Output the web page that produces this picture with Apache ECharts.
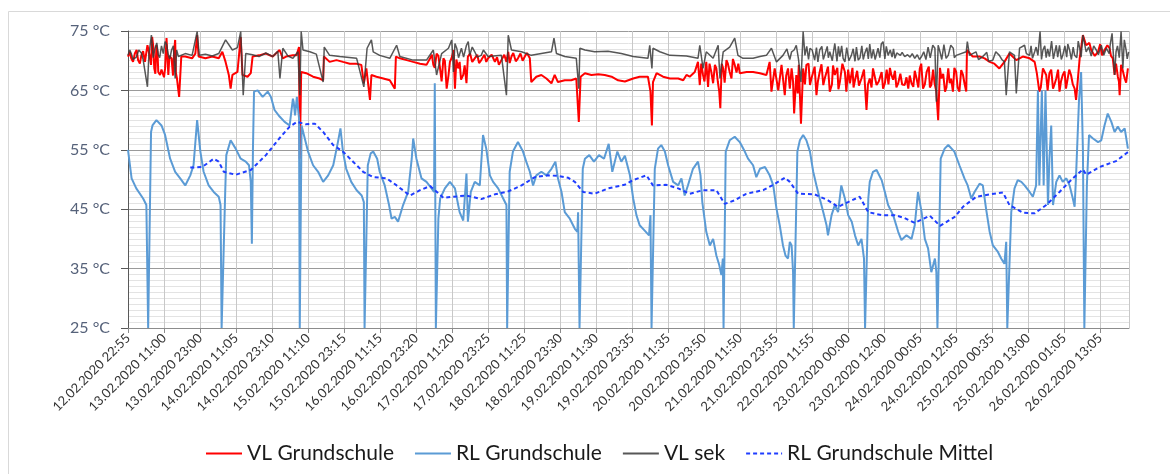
<!DOCTYPE html>
<html>
<head>
<meta charset="utf-8">
<title>VL / RL Grundschule</title>
<script src="https://cdn.jsdelivr.net/npm/echarts@6/dist/echarts.min.js"></script>
<style>
  html, body { margin: 0; padding: 0; background: #fff; }
  #chart { width: 1170px; height: 474px; }
</style>
</head>
<body>
<div id="chart"></div>
<script>
// x = position in tick slots (one slot per labelled tick), y = °C
const tickLabels = [
  '12.02.2020 22:55', '13.02.2020 11:00', '13.02.2020 23:00', '14.02.2020 11:05',
  '14.02.2020 23:10', '15.02.2020 11:10', '15.02.2020 23:15', '16.02.2020 11:15',
  '16.02.2020 23:20', '17.02.2020 11:20', '17.02.2020 23:25', '18.02.2020 11:25',
  '18.02.2020 23:30', '19.02.2020 11:30', '19.02.2020 23:35', '20.02.2020 11:35',
  '20.02.2020 23:50', '21.02.2020 11:50', '21.02.2020 23:55', '22.02.2020 11:55',
  '23.02.2020 00:00', '23.02.2020 12:00', '24.02.2020 00:05', '24.02.2020 12:05',
  '25.02.2020 00:35', '25.02.2020 13:00', '26.02.2020 01:05', '26.02.2020 13:05'
]

const vlGrundschule = [
  [0, 70.7], [0.09, 70.4], [0.19, 71.2], [0.28, 70.1], [0.37, 70.9], [0.47, 69.8], [0.54, 72.6], [0.61, 70.4],
  [0.67, 74], [0.73, 68.7], [0.79, 72.6], [0.84, 68.1], [0.89, 67.6], [0.98, 67.6], [1.03, 68.7], [1.07, 73.8],
  [1.12, 67.6], [1.21, 70.4], [1.31, 73.5], [1.36, 67], [1.42, 63.9], [1.48, 70.7], [1.59, 70.7], [1.78, 70.4],
  [1.87, 71.2], [1.92, 74.3], [1.96, 70.7], [2.15, 70.4], [2.34, 70.7], [2.52, 70.4], [2.62, 71.5], [2.71, 69.8],
  [2.8, 67.6], [2.85, 65.3], [2.9, 67.6], [3.04, 68.1], [3.13, 74], [3.18, 67.6], [3.32, 67.3], [3.41, 67.9],
  [3.46, 70.7], [3.64, 70.9], [3.83, 71.2], [4.02, 70.7], [4.21, 71.8], [4.3, 70.4], [4.39, 70.7], [4.58, 70.9],
  [4.68, 70.9], [4.75, 72.3], [4.77, 53.5], [4.81, 68.1], [4.95, 67.9], [5.14, 67.3], [5.32, 67], [5.42, 66.7],
  [5.44, 70.7], [5.6, 69.8], [5.79, 70.1], [5.97, 69.8], [6.16, 69.5], [6.35, 69.5], [6.48, 69.3], [6.55, 66.2],
  [6.62, 68.7], [6.72, 63.4], [6.76, 67.6], [6.9, 67.3], [7.09, 67], [7.27, 66.7], [7.41, 65.3], [7.44, 70.7],
  [7.55, 70.4], [7.74, 70.1], [7.92, 69.8], [8.11, 69.5], [8.29, 69.3], [8.39, 70.4], [8.48, 69.3], [8.57, 71.2],
  [8.66, 69], [8.76, 70.4], [8.85, 65.3], [8.94, 69.8], [9.04, 71.8], [9.08, 65.3], [9.17, 68.7], [9.21, 69.8],
  [9.31, 67.6], [9.4, 66.2], [9.44, 70.7], [9.63, 70.4], [9.81, 70.1], [10, 70.4], [10.19, 69.8], [10.37, 70.1],
  [10.51, 69.8], [10.56, 71.5], [10.65, 70.7], [10.83, 70.4], [11.02, 70.7], [11.16, 70.4], [11.2, 66.4], [11.34, 67.3],
  [11.48, 67.6], [11.62, 67], [11.76, 66.2], [11.85, 67.6], [11.94, 66.4], [12.13, 66.7], [12.31, 66.7], [12.45, 67],
  [12.52, 59.7], [12.57, 67.3], [12.69, 67.9], [12.87, 67.6], [13.06, 67.7], [13.24, 67.6], [13.43, 67.3], [13.61, 66.7],
  [13.8, 66.5], [14.03, 67], [14.21, 67.3], [14.44, 67.3], [14.51, 64.8], [14.55, 59.1], [14.58, 66.4], [14.68, 67.9],
  [14.86, 67.3], [15.05, 67], [15.28, 67], [15.42, 66.7], [15.51, 67.6], [15.6, 67.3], [15.74, 68.1], [15.83, 69.8],
  [15.88, 65.9], [15.97, 67.6], [16.06, 69.8], [16.11, 65.6], [16.2, 68.1], [16.34, 68.7], [16.42, 64.8], [16.45, 62],
  [16.53, 68.7], [16.62, 70.1], [16.71, 68.1], [16.85, 69.3], [16.99, 67.9], [17.18, 68.1], [17.36, 68.1], [17.55, 67.9],
  [17.73, 67.6], [17.82, 69.8], [17.87, 64.8], [17.96, 68.7], [18.06, 65], [18.15, 69.3], [18.24, 64.2], [18.33, 68.7],
  [18.38, 65.3], [18.43, 68.7], [18.5, 61.1], [18.56, 67.6], [18.63, 69.3], [18.69, 59.4], [18.75, 68.7], [18.84, 69.3],
  [18.94, 65.9], [19.03, 68.1], [19.12, 64.2], [19.21, 68.1], [19.31, 65.9], [19.4, 68.1], [19.49, 64.8], [19.63, 67.6],
  [19.77, 66.4], [19.91, 68.1], [20.05, 66.2], [20.19, 66.7], [20.37, 67], [20.51, 61.7], [20.6, 67], [20.69, 68.7],
  [20.79, 65.9], [20.93, 68.1], [21.02, 66.2], [21.2, 67.6], [21.39, 66.2], [21.57, 65.9], [21.76, 66.2], [21.9, 67],
  [21.99, 68.7], [22.08, 65.3], [22.18, 68.1], [22.31, 65.9], [22.45, 64.8], [22.5, 60], [22.59, 67], [22.69, 64.8],
  [22.78, 68.7], [22.86, 67], [22.91, 64.8], [23, 68.1], [23.09, 64.8], [23.19, 67.6], [23.28, 64.8], [23.3, 71.8],
  [23.46, 70.7], [23.65, 70.7], [23.79, 70.4], [23.93, 69.8], [24.06, 69.5], [24.2, 68.7], [24.34, 69.8], [24.48, 71.2],
  [24.67, 70.1], [24.85, 70.7], [25.04, 70.4], [25.18, 69.8], [25.24, 67.9], [25.31, 64.8], [25.41, 68.7], [25.5, 67.6],
  [25.59, 67.9], [25.69, 65.3], [25.78, 67], [25.87, 64.8], [25.96, 67.6], [26.1, 65], [26.19, 67.6], [26.29, 65.3],
  [26.33, 63.4], [26.43, 70.4], [26.52, 74.3], [26.61, 72.6], [26.75, 71.8], [26.94, 71.5], [27.12, 71.8], [27.26, 72.1],
  [27.35, 70.4], [27.4, 67.6], [27.49, 67.3], [27.54, 64.2], [27.58, 69.3], [27.68, 67], [27.77, 68.7],
  // denser readings in the noisy stretches
  [0.05, 71.5], [0.14, 69.8], [0.24, 71.8], [0.33, 69.5], [0.42, 71.6], [0.5, 69.5], [0.57, 71.8], [0.64, 69.3],
  [0.7, 72.5], [0.76, 67.8], [0.82, 71.5], [0.93, 68.5], [1.0, 67.2], [1.15, 70.8], [1.25, 67.5], [1.28, 71.5], [1.33, 68],
  [8.44, 71], [8.52, 68.8], [8.62, 70.8], [8.71, 66.5], [8.8, 70], [8.9, 67.5], [8.99, 70.5], [9.12, 70.2], [9.25, 66.8],
  [9.35, 69.2], [9.5, 71.2], [9.56, 69.8], [9.7, 71], [9.75, 69.6], [9.9, 71], [9.95, 69.8], [10.1, 71], [10.25, 70.6],
  [10.3, 69.3], [10.45, 71], [10.6, 69.6], [10.7, 71.3], [10.77, 69.9], [10.9, 71.2], [10.96, 70], [11.08, 71.3],
  [15.92, 69.5], [16.01, 66.5], [16.15, 69.5], [16.25, 66.2], [16.3, 69.3], [16.38, 66.5], [16.49, 69.5], [16.57, 66.3],
  [16.66, 69.5], [16.76, 67], [16.8, 70.3], [16.9, 68], [16.95, 69.5],
  [18.28, 67.5], [18.47, 66.5], [18.6, 64.5], [18.8, 66], [18.9, 69.5], [18.98, 67], [19.07, 69], [19.16, 66.5],
  [19.26, 69.4], [19.35, 67], [19.44, 69], [19.55, 66], [19.58, 69.2], [19.7, 68.8], [19.73, 65.2], [19.84, 69.5],
  [19.95, 64.8], [20, 68.5], [20.12, 68.8], [20.15, 65.5], [20.25, 68.3], [20.3, 65.8], [20.44, 68.5], [20.55, 66],
  [20.65, 65.5], [20.74, 69], [20.85, 66.5], [20.97, 65.3], [21.07, 68.5], [21.12, 66], [21.16, 68.8], [21.25, 66.8],
  [21.3, 68.3], [21.34, 65.5], [21.45, 67.8], [21.5, 66], [21.62, 67.2], [21.67, 65.3], [21.71, 67.5], [21.81, 65.6],
  [21.85, 68.3], [21.95, 65.5], [22.03, 69.5], [22.13, 66], [22.24, 69], [22.27, 65.5], [22.36, 68.5], [22.4, 66.2],
  [22.55, 68.8], [22.64, 67.8], [22.73, 65.5], [22.82, 66.2], [22.95, 68.8], [23.04, 65.5], [23.14, 68.4], [23.23, 66.2],
  [25.27, 68], [25.35, 65.5], [25.45, 68.9], [25.54, 65], [25.64, 68.5], [25.73, 66], [25.83, 68.5], [25.91, 66.5],
  [26.01, 68.2], [26.05, 65.3], [26.14, 68.5], [26.24, 66],
  [26.7, 73], [26.85, 70.8], [27.0, 72.8], [27.05, 70.9], [27.2, 72.6], [27.3, 70.8],
  [27.44, 69.5], [27.52, 66.5], [27.62, 68.5], [27.72, 66.3]
]

const rlGrundschule = [
  [0, 55], [0.1, 50.2], [0.23, 48.5], [0.42, 46.8], [0.51, 45.7], [0.56, 25], [0.6, 25], [0.64, 58],
  [0.68, 59.1], [0.79, 60], [0.93, 59.1], [1.03, 57.5], [1.17, 53.5], [1.31, 51.3], [1.45, 50.2], [1.59, 49],
  [1.73, 50.7], [1.82, 52.4], [1.92, 60], [2.01, 54.7], [2.1, 51.3], [2.24, 49], [2.38, 47.9], [2.52, 47.1],
  [2.57, 45.7], [2.6, 25], [2.64, 25], [2.7, 48], [2.73, 54.1], [2.85, 56.6], [2.99, 55.2], [3.13, 53.5],
  [3.27, 53], [3.36, 52.4], [3.41, 49.6], [3.44, 39.2], [3.47, 55], [3.5, 64.8], [3.6, 65], [3.74, 63.9],
  [3.88, 64.8], [3.97, 63.9], [4.07, 61.7], [4.21, 60.6], [4.35, 59.7], [4.49, 59.1], [4.58, 63.6], [4.6, 63.1],
  [4.64, 60.8], [4.69, 63.9], [4.75, 60.3], [4.77, 25], [4.79, 25], [4.82, 59.1], [5, 54.7], [5.14, 52.4],
  [5.28, 51.3], [5.42, 49.6], [5.56, 50.7], [5.7, 52.4], [5.83, 56.3], [5.9, 58.6], [5.97, 54.7], [6.06, 51.8],
  [6.2, 49.6], [6.35, 48.2], [6.49, 47.3], [6.55, 46.2], [6.57, 25], [6.6, 25], [6.66, 52.4], [6.74, 54.4],
  [6.81, 54.7], [6.92, 53.5], [6.99, 51.3], [7.13, 49], [7.25, 45.7], [7.32, 43.4], [7.41, 43.7], [7.5, 42.9],
  [7.64, 45.7], [7.78, 47.9], [7.88, 53.5], [7.92, 56.9], [8.01, 53.5], [8.15, 50.2], [8.29, 49.6], [8.43, 48.5],
  [8.5, 47.9], [8.52, 66.2], [8.55, 25], [8.57, 25], [8.62, 43.4], [8.67, 46.8], [8.8, 48.5], [8.94, 49.6],
  [9.08, 48.5], [9.17, 45.7], [9.21, 44.5], [9.31, 43.1], [9.4, 51], [9.44, 42.9], [9.52, 47.9], [9.63, 49.6],
  [9.77, 49], [9.86, 57.5], [9.95, 55.2], [10.05, 50.7], [10.14, 49.6], [10.28, 48.5], [10.42, 46.8], [10.51, 45.7],
  [10.53, 25], [10.56, 25], [10.6, 51.3], [10.69, 54.7], [10.83, 56.3], [10.97, 54.7], [11.06, 53], [11.16, 51.3],
  [11.25, 49], [11.34, 50.7], [11.48, 51.3], [11.62, 50.7], [11.76, 51.8], [11.87, 53], [11.94, 50.2], [12.04, 47.9],
  [12.13, 44.5], [12.27, 43.4], [12.41, 41.7], [12.48, 41.2], [12.5, 44.5], [12.54, 25], [12.57, 25], [12.63, 51.8],
  [12.69, 53.5], [12.81, 54.1], [12.94, 53], [13.08, 54.1], [13.22, 53.5], [13.35, 56], [13.45, 51.3], [13.59, 54.7],
  [13.7, 53], [13.8, 54], [13.94, 50.7], [14.03, 46.8], [14.12, 44], [14.21, 42.3], [14.35, 41.4], [14.47, 40.6],
  [14.51, 44], [14.54, 25], [14.57, 25], [14.63, 51.8], [14.72, 55.2], [14.81, 55.8], [14.91, 54.7], [15, 52.4],
  [15.14, 49.6], [15.28, 49], [15.37, 50.2], [15.46, 47.3], [15.55, 49], [15.69, 51.8], [15.83, 53], [15.9, 50.7],
  [15.95, 46.2], [16.06, 41.2], [16.16, 38.9], [16.25, 40], [16.34, 37.2], [16.42, 35.6], [16.48, 33.9], [16.52, 36.7],
  [16.54, 25], [16.57, 25], [16.6, 54.7], [16.71, 56.6], [16.85, 57.2], [16.99, 56.3], [17.13, 54.7], [17.22, 53.5],
  [17.36, 52.4], [17.45, 50.4], [17.55, 51.8], [17.69, 52.1], [17.82, 50.7], [17.92, 49], [18.01, 45.1], [18.1, 42.3],
  [18.19, 38.9], [18.26, 37.2], [18.33, 36.7], [18.38, 39.5], [18.43, 38.9], [18.47, 34.4], [18.49, 25], [18.53, 25],
  [18.59, 54.7], [18.66, 56.6], [18.75, 57.5], [18.84, 56.6], [18.94, 54.7], [19.03, 51.3], [19.12, 49], [19.21, 46.8],
  [19.31, 44.5], [19.4, 42.3], [19.44, 40.6], [19.54, 44], [19.63, 45.7], [19.72, 44.5], [19.81, 49], [19.91, 46.8],
  [20, 44], [20.1, 42.9], [20.19, 40.6], [20.28, 38.9], [20.37, 40], [20.44, 36.7], [20.47, 25], [20.5, 25],
  [20.56, 46.8], [20.6, 49.6], [20.69, 51.3], [20.79, 51.6], [20.93, 49.9], [21.02, 47.9], [21.11, 45.7], [21.25, 44],
  [21.39, 41.2], [21.48, 39.8], [21.62, 40.6], [21.76, 40], [21.85, 42.3], [21.94, 47.9], [22.04, 44.5], [22.13, 40],
  [22.22, 38.4], [22.31, 34.4], [22.41, 36.7], [22.45, 34.4], [22.48, 25], [22.52, 25], [22.57, 53.5], [22.68, 55.2],
  [22.78, 55.8], [22.95, 54.7], [23.09, 52.4], [23.23, 50.2], [23.32, 49], [23.42, 46.8], [23.51, 47.9], [23.65, 49.3],
  [23.74, 49], [23.83, 45.1], [23.93, 41.2], [24.02, 38.9], [24.16, 37.8], [24.25, 36.7], [24.34, 35.8], [24.39, 39.5],
  [24.42, 25], [24.47, 25], [24.53, 44.5], [24.62, 48.5], [24.71, 49.9], [24.81, 49.6], [24.9, 49], [25.04, 47.9],
  [25.13, 47.1], [25.22, 49], [25.27, 65], [25.31, 49], [25.38, 65], [25.43, 49], [25.48, 65], [25.55, 45.7],
  [25.59, 53.5], [25.64, 59.1], [25.69, 45.7], [25.78, 49.6], [25.87, 50.7], [25.96, 49.6], [26.06, 50.2], [26.15, 49],
  [26.24, 46.8], [26.29, 45.4], [26.33, 50.7], [26.41, 63.1], [26.47, 68.1], [26.52, 55], [26.56, 25], [26.59, 25],
  [26.63, 49], [26.69, 57.5], [26.8, 56.9], [26.94, 56.3], [27.03, 56.6], [27.12, 59.1], [27.21, 61.1], [27.31, 59.7],
  [27.4, 58], [27.49, 58.9], [27.58, 58], [27.68, 58.6], [27.77, 55.2]
]

const vlSek = [
  [0, 70.9], [0.09, 71.2], [0.23, 70.6], [0.37, 71.3], [0.47, 70.5], [0.54, 65.6], [0.58, 71], [0.65, 74.3],
  [0.75, 72.1], [0.84, 71], [0.93, 72.5], [1.03, 73.2], [1.12, 71], [1.21, 71.8], [1.31, 67], [1.4, 70.7],
  [1.59, 71.2], [1.78, 70.9], [1.92, 74.9], [1.98, 70.9], [2.15, 71.1], [2.34, 70.8], [2.52, 71.2], [2.71, 73.5],
  [2.9, 71.8], [3.04, 72.2], [3.13, 74.9], [3.2, 64.2], [3.27, 71.2], [3.46, 71], [3.64, 70.7], [3.83, 71.3],
  [4.02, 70.7], [4.16, 71.6], [4.22, 67], [4.3, 72.1], [4.44, 70.8], [4.58, 70.4], [4.72, 71.5], [4.77, 64.2],
  [4.81, 74.9], [4.86, 71.8], [5.05, 71.5], [5.23, 71.1], [5.42, 66.4], [5.45, 72.3], [5.6, 70.9], [5.88, 70.7],
  [6.35, 70.4], [6.55, 65.6], [6.64, 72.1], [6.76, 73.5], [6.81, 71.5], [6.99, 70.9], [7.27, 70.4], [7.46, 72.6],
  [7.55, 70.7], [7.92, 70.1], [8.29, 70.1], [8.48, 71.8], [8.57, 67.6], [8.71, 71.2], [8.9, 72.1], [8.99, 73.5],
  [9.04, 68.1], [9.13, 72.1], [9.26, 72.1], [9.4, 72.6], [9.49, 70.9], [9.63, 71.5], [9.81, 70.9], [10, 70.7],
  [10.37, 70.9], [10.51, 64.2], [10.56, 74.3], [10.65, 71.8], [10.93, 71.5], [11.2, 70.9], [11.48, 71.2], [11.76, 71.5],
  [11.83, 73.8], [11.9, 71.2], [12.13, 70.7], [12.45, 70.4], [12.52, 65.3], [12.55, 72.1], [12.69, 71.8], [12.96, 71.5],
  [13.33, 71.6], [13.7, 71.2], [14.03, 70.7], [14.44, 70.4], [14.49, 72.6], [14.55, 68.7], [14.58, 72.1], [14.77, 71.5],
  [15.05, 70.9], [15.51, 70.8], [15.83, 70.4], [15.88, 72.6], [15.97, 68.7], [16.06, 71.5], [16.25, 70.4], [16.39, 72.6],
  [16.44, 67], [16.53, 71.5], [16.71, 72.3], [16.85, 73.8], [16.94, 70.9], [17.08, 70.4], [17.36, 70.4], [17.55, 70.7],
  [17.73, 70.9], [17.87, 72.1], [18.01, 69.8], [18.19, 70.9], [18.33, 71.2], [18.43, 71.5], [18.56, 72.6], [18.69, 66.4],
  [18.75, 74.9], [18.8, 70.9], [18.94, 72.1], [19.07, 70.1], [19.21, 71.8], [19.35, 70.4], [19.49, 71.5], [19.63, 72.9],
  [19.77, 70.7], [19.91, 69.8], [20.09, 70.9], [20.28, 70.1], [20.46, 71.2], [20.65, 70.4], [20.83, 72.1], [20.97, 73.2],
  [21.11, 70.9], [21.3, 70.4], [21.57, 70.7], [21.85, 70.4], [22.04, 70.7], [22.41, 72.1], [22.45, 63.1], [22.55, 71.5],
  [22.78, 70.9], [22.92, 72.1], [23, 70.9], [23.28, 71.5], [23.31, 73.2], [23.37, 70.9], [23.74, 70.7], [24.02, 70.1],
  [24.2, 70.9], [24.34, 69.8], [24.39, 64.2], [24.48, 71.5], [24.62, 70.9], [24.67, 64.5], [24.76, 72.1], [24.9, 72.6],
  [25.04, 70.9], [25.18, 71.5], [25.27, 70.9], [25.33, 74.9], [25.41, 71.8], [25.59, 70.7], [25.78, 72.6], [25.96, 70.9],
  [26.15, 71.8], [26.29, 70.9], [26.43, 72.1], [26.52, 74.3], [26.61, 71.5], [26.89, 71.8], [27.17, 72.1], [27.33, 74.6],
  [27.4, 67.6], [27.44, 71.5], [27.58, 74.9], [27.63, 68.7], [27.72, 71.8], [27.79, 71.5],
  // denser readings in the noisy stretches
  [0.05, 71.8], [0.14, 70.2], [0.3, 71.8], [0.42, 70.2], [0.7, 70.5], [0.8, 73], [0.88, 70.5], [0.98, 71.2],
  [1.07, 72.8], [1.16, 70.3], [1.26, 72.5], [1.35, 71.8],
  [9.08, 72.9], [9.18, 70.5], [9.32, 70.6], [9.45, 73.2], [9.56, 72.3], [9.7, 70.6], [9.87, 71.8],
  [18.3, 72], [18.38, 70.2], [18.5, 71.8], [18.62, 70.3], [18.85, 72.4], [18.9, 70.2], [19, 71.8], [19.12, 72.2],
  [19.16, 69.8], [19.27, 72.4], [19.31, 70.2], [19.42, 72.4], [19.45, 70.5], [19.56, 70], [19.6, 71.8], [19.69, 69.9],
  [19.73, 72.4], [19.82, 72.5], [19.86, 70.4], [19.96, 72.2], [20.02, 70], [20.14, 72], [20.19, 69.9], [20.23, 72.3],
  [20.33, 70.5], [20.38, 72.5], [20.42, 70.2], [20.52, 72.2], [20.56, 70.3], [20.6, 72.8], [20.7, 71.9], [20.75, 70.2],
  [20.88, 70.5], [20.92, 72.8], [21.02, 70.3], [21.06, 72.4], [21.17, 71.8], [21.22, 70.6], [21.26, 72], [21.35, 71.3],
  [21.45, 70.9], [21.5, 71.4], [21.65, 71], [21.72, 70.6], [21.78, 71.2], [21.92, 71], [21.98, 70.2], [22.1, 71.5],
  [22.16, 70.2], [22.22, 72.3], [22.28, 70.5], [22.35, 72.6], [22.5, 72.6], [22.6, 70.2], [22.66, 72.7], [22.72, 70.4],
  [22.85, 72.6], [22.95, 70.5],
  [23.55, 71.5], [23.62, 70.2], [23.85, 71.4], [23.9, 69.9], [24.1, 71.5], [24.27, 70.2],
  [24.95, 71.2], [25.08, 72.5], [25.12, 70.4], [25.22, 72.3], [25.37, 70.2], [25.46, 72.5], [25.5, 70.5], [25.54, 72],
  [25.65, 73.3], [25.7, 70.3], [25.82, 70.6], [25.87, 72.6], [25.92, 70.2], [26.02, 72.5], [26.07, 70.6], [26.1, 72.8],
  [26.2, 70.2], [26.25, 72.3], [26.35, 70.5], [26.39, 73.3], [26.47, 70.6],
  [26.68, 72.3], [26.75, 70.8], [26.82, 72.5], [26.95, 71], [27.03, 72.6], [27.1, 70.9], [27.25, 71.2], [27.28, 72.8],
  [27.48, 72.5], [27.53, 70.5], [27.67, 73.5], [27.75, 70.3]
]

const rlMittel = [
  [1.73, 52], [2.06, 52.1], [2.38, 53.5], [2.52, 53], [2.66, 51.3], [2.99, 50.8], [3.41, 51.6], [3.83, 54.1],
  [4.2, 56.9], [4.49, 58.9], [4.69, 59.7], [4.93, 59.3], [5.19, 59.4], [5.42, 58], [5.7, 55.8], [5.97, 54.7],
  [6.25, 53], [6.53, 51.3], [6.81, 50.4], [7.18, 50.2], [7.46, 49], [7.83, 47.3], [8.11, 48.2], [8.39, 48.9],
  [8.58, 47.9], [8.76, 46.9], [9.04, 47.1], [9.4, 47.3], [9.81, 46.7], [10.19, 47.5], [10.56, 48], [10.93, 49],
  [11.3, 50.4], [11.67, 50.7], [11.94, 50.6], [12.22, 50.3], [12.41, 49.6], [12.64, 47.9], [12.96, 47.6], [13.33, 48.5],
  [13.79, 49.1], [14.03, 49.9], [14.4, 50.7], [14.58, 49], [14.95, 49.1], [15.28, 48.5], [15.6, 47.6], [15.97, 48.2],
  [16.34, 48.2], [16.57, 45.9], [16.85, 46.5], [17.17, 47.6], [17.64, 48.2], [17.92, 49.1], [18.24, 50.3], [18.38, 49.6],
  [18.61, 47.6], [19.07, 47.5], [19.44, 46.5], [19.72, 45.4], [20, 46.2], [20.32, 47.1], [20.56, 44.5], [20.93, 44],
  [21.3, 44], [21.57, 43.5], [21.85, 42.7], [22.27, 43.9], [22.55, 42.2], [22.96, 43.7], [23.19, 45.4], [23.56, 47.1],
  [23.93, 47.5], [24.3, 47.8], [24.48, 45.7], [24.85, 44.4], [25.18, 44.3], [25.5, 45.7], [25.87, 47.9], [26.24, 50.2],
  [26.52, 51.7], [26.61, 50.8], [26.98, 52.1], [27.44, 53.1], [27.79, 54.7]
]

const yTicks = { min: 25, max: 75, step: 10 }
const xEnd = 27.8

const byTime = (a, b) => a[0] - b[0]
const chart = echarts.init(document.getElementById('chart'))
const font = 'Lato, "Noto Sans", sans-serif'

chart.setOption({
  animation: false,
  backgroundColor: '#fff',
  graphic: [{
    type: 'rect',
    shape: { x: 8.5, y: 11.5, width: 1200, height: 500 },
    style: { fill: 'none', stroke: '#d9d9d9', lineWidth: 1 },
    silent: true
  }],
  grid: { left: 128, top: 31, width: 1001, height: 297 },
  legend: {
    top: 443,
    left: 205,
    padding: 0,
    itemWidth: 36,
    itemHeight: 12,
    itemGap: 20,
    itemStyle: { opacity: 0 },
    textStyle: { fontFamily: font, fontSize: 21, color: '#1a1a1a' },
    data: ['VL Grundschule', 'RL Grundschule', 'VL sek', 'RL Grundschule Mittel']
  },
  xAxis: {
    type: 'value',
    min: 0,
    max: xEnd,
    interval: 1,
    axisLine: { show: true, lineStyle: { color: '#8c8c8c', width: 1 } },
    axisTick: { show: true, length: 5, lineStyle: { color: '#8c8c8c' } },
    splitLine: { show: true, lineStyle: { color: '#c8c8c8', width: 1 } },
    axisLabel: {
      rotate: 45,
      margin: 8,
      fontFamily: font,
      fontSize: 13,
      color: '#333',
      showMaxLabel: false,
      formatter: v => {
        const i = Math.round(v)
        return Math.abs(v - i) < 1e-6 && tickLabels[i] ? tickLabels[i] : ''
      }
    }
  },
  yAxis: {
    type: 'value',
    min: yTicks.min,
    max: yTicks.max,
    interval: yTicks.step,
    axisLine: { show: true, lineStyle: { color: '#595959', width: 1 } },
    axisTick: { show: true, length: 7, lineStyle: { color: '#595959' } },
    minorTick: { show: false, splitNumber: 10 },
    splitLine: { lineStyle: { color: '#9a9a9a', width: 1 } },
    minorSplitLine: { show: true, lineStyle: { color: '#e3e3e3', width: 1 } },
    axisLabel: {
      margin: 18,
      fontFamily: font,
      fontSize: 16,
      color: '#56627a',
      formatter: '{value} °C'
    }
  },
  series: [
    {
      name: 'VL Grundschule',
      type: 'line',
      data: vlGrundschule.slice().sort(byTime),
      symbol: 'none',
      lineStyle: { color: '#ff0000', width: 2 },
      itemStyle: { color: '#ff0000' }
    },
    {
      name: 'RL Grundschule',
      type: 'line',
      data: rlGrundschule,
      symbol: 'none',
      lineStyle: { color: '#5b9bd5', width: 2 },
      itemStyle: { color: '#5b9bd5' }
    },
    {
      name: 'VL sek',
      type: 'line',
      data: vlSek.slice().sort(byTime),
      symbol: 'none',
      lineStyle: { color: '#3a3a3a', width: 1.5, opacity: 0.85 },
      itemStyle: { color: '#3a3a3a' }
    },
    {
      name: 'RL Grundschule Mittel',
      type: 'line',
      data: rlMittel,
      symbol: 'none',
      lineStyle: { color: '#1f3dff', width: 2, type: [4, 3] },
      itemStyle: { color: '#1f3dff' }
    }
  ]
})
</script>
</body>
</html>
